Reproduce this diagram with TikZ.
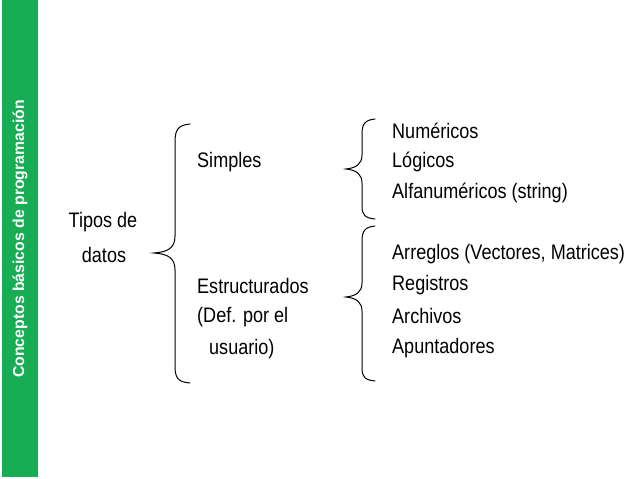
\documentclass[tikz,border=0pt]{standalone}
\usepackage{fontspec}
\setmainfont{Liberation Sans}
\newfontfamily\narrowf[FakeStretch=0.86]{Liberation Sans}
\definecolor{bar}{HTML}{17AD55}
\begin{document}
\begin{tikzpicture}[x=1pt,y=-1pt,
  lbl/.style={font=\narrowf\fontsize{21}{24}\selectfont,anchor=west,inner sep=0pt},
  brace/.style={draw,line width=1pt,line cap=round}]
\useasboundingbox (0,0) rectangle (638,479);
\fill[bar] (2,0) rectangle (38,477);
\node[rotate=90,text=white,font=\bfseries\fontsize{15.8}{18}\selectfont] (title) at (20,239) {Conceptos básicos de programación};
% braces
\draw[brace] (190,124) .. controls (178,125) and (175,130) .. (175,142) -- (175,236) .. controls (175,248) and (168,252) .. (154,253)
  .. controls (168,254) and (175,258) .. (175,270) -- (175,366) .. controls (175,378) and (178,382) .. (190,383);
\draw[brace] (375,119) .. controls (365,120) and (362,124) .. (362,134) -- (362,155) .. controls (362,164) and (356,168) .. (346,169)
  .. controls (356,170) and (362,174) .. (362,183) -- (362,206) .. controls (362,215) and (365,218) .. (375,219);
\draw[brace] (375,226) .. controls (365,227) and (362,231) .. (362,241) -- (362,283) .. controls (362,292) and (356,296) .. (346,297)
  .. controls (356,298) and (362,302) .. (362,311) -- (362,368) .. controls (362,377) and (365,380) .. (375,381);
\node[lbl,anchor=center] (t1) at (103,222) {Tipos de};
\node[lbl,anchor=center] (t2) at (104,255) {datos};
\node[lbl] (s) at (197,162) {Simples};
\node[lbl] (e1) at (197,286) {Estructurados};
\node[lbl] (e2) at (197,317) {(Def. por el};
\node[lbl] (e3) at (209,349) {usuario)};
\node[lbl] (r1) at (392,131) {Numéricos};
\node[lbl] (r2) at (392,162) {Lógicos};
\node[lbl] (r3) at (392,193) {Alfanuméricos (string)};
\node[lbl] (r4) at (392,254) {Arreglos (Vectores, Matrices)};
\node[lbl] (r5) at (392,285) {Registros};
\node[lbl] (r6) at (392,316) {Archivos};
\node[lbl] (r7) at (392,348) {Apuntadores};
\end{tikzpicture}
\end{document}
